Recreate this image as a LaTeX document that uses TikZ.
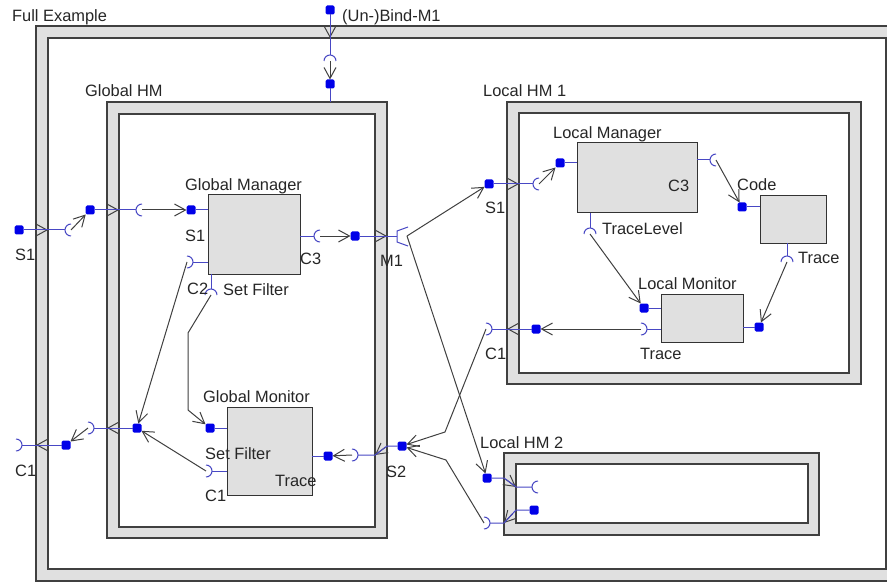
\documentclass[tikz,border=0pt]{standalone}
\usepackage{fontspec}
\setmainfont{Liberation Sans}
\usetikzlibrary{arrows.meta, calc}
\definecolor{bandGray}{gray}{0.88}
\definecolor{edgeGray}{gray}{0.25}
\definecolor{bindGray}{gray}{0.25}
\definecolor{wireBlue}{RGB}{72,72,196}
\definecolor{portBlue}{RGB}{0,0,232}

\tikzset{
  frameband/.style={draw=edgeGray, fill=bandGray, line width=1.2pt, inner sep=0pt, outer sep=0pt, anchor=north west},
  framein/.style={draw=edgeGray, fill=white, line width=1.2pt, inner sep=0pt, outer sep=0pt, anchor=north west},
  comp/.style={draw=black!80, fill=bandGray, line width=1pt, inner sep=0pt, outer sep=0pt, anchor=north west},
  srv/.style={fill=portBlue, minimum size=9pt, inner sep=0pt, outer sep=0pt, rounded corners=1.5pt},
  wire/.style={draw=wireBlue, line width=1pt},
  bind/.style={draw=bindGray, line width=1pt, -{Straight Barb[length=11pt,width=12pt]}},
  lbl/.style={inner sep=0pt, anchor=base west, text=black!85, font=\fontsize{16.4}{18}\selectfont},
  sockR/.pic={\draw[wire] (0,-6) arc[start angle=90, end angle=270, radius=6pt];
    \coordinate (-c) at (0,0); \coordinate (-b) at (-6,0);},
  sockL/.pic={\draw[wire] (0,-6) arc[start angle=90, end angle=-90, radius=6pt];
    \coordinate (-c) at (0,0); \coordinate (-b) at (6,0);},
  sockD/.pic={\draw[wire] (-6,0) arc[start angle=180, end angle=0, radius=6pt];
    \coordinate (-c) at (0,0); \coordinate (-b) at (0,-6);},
  multi/.pic={\draw[wire] (11,-9) -- (0,-5) -- (0,6) -- (11,10);
    \coordinate (-c) at (10,0); \coordinate (-b) at (0,0);}
}
\newcommand{\memtip}[2]{\draw[bind] ($(#2)!13pt!(#1)$) -- (#2);}

\begin{document}
\begin{tikzpicture}[x=1pt, y=-1pt]
    \useasboundingbox (0,0) rectangle (887,583);

    % Membranes
    \node[frameband, minimum width=862pt, minimum height=555pt] (full) at (36,26) {};
    \node[framein, minimum width=838pt, minimum height=531pt] (fullIn) at (48,38) {};
    \node[frameband, minimum width=280pt, minimum height=436pt] (gh) at (107,102) {};
    \node[framein, minimum width=256pt, minimum height=413pt] (ghIn) at (119,114) {};
    \node[frameband, minimum width=354pt, minimum height=282pt] (lh1) at (507,102) {};
    \node[framein, minimum width=330pt, minimum height=260pt] (lh1In) at (519,113) {};
    \node[frameband, minimum width=315pt, minimum height=82pt] (lh2) at (504,453) {};
    \node[framein, minimum width=292pt, minimum height=59pt] (lh2In) at (516,464) {};

    % Primitive components
    \node[comp, minimum width=92pt, minimum height=79pt] (gm) at (208,195) {};
    \node[comp, minimum width=85pt, minimum height=88pt] (gmo) at (227,407) {};
    \node[comp, minimum width=120pt, minimum height=70pt] (lm) at (577,143) {};
    \node[comp, minimum width=66pt, minimum height=47pt] (code) at (760,196) {};
    \node[comp, minimum width=82pt, minimum height=48pt] (lmo) at (661,294) {};

    % Server interfaces
    \node[srv] (oS1) at (19,230) {};
    \node[srv] (ghS1) at (90,210) {};
    \node[srv] (ub) at (330,10) {};
    \node[srv] (ghM1) at (330,84) {};
    \node[srv] (gmS1) at (191,210) {};
    \node[srv] (ghM1in) at (355,236) {};
    \node[srv] (ghS2) at (402,446) {};
    \node[srv] (gmoTr) at (328,456) {};
    \node[srv] (gmoSF) at (210,428) {};
    \node[srv] (ghC1in) at (137,428) {};
    \node[srv] (oC1in) at (66,445) {};
    \node[srv] (lh1S1) at (489,184) {};
    \node[srv] (lmS) at (560,163) {};
    \node[srv] (codeS) at (742,207) {};
    \node[srv] (lmoS) at (644,308) {};
    \node[srv] (lmoOut) at (759,327) {};
    \node[srv] (lh1C1in) at (536,329) {};
    \node[srv] (lh2S1) at (487,478) {};
    \node[srv] (lh2C1in) at (534,510) {};

    % Client interfaces
    \pic (oS1in) at (71,230) {sockR};
    \pic (ghS1in) at (142,210) {sockR};
    \pic (ubIn) at (330,61) {sockD};
    \pic (gmC2) at (187,262) {sockL};
    \pic (gmSF) at (211,295) {sockD};
    \pic (gmC3) at (320,236) {sockR};
    \pic (ghM1out) at (397,236) {multi};
    \pic (ghS2in) at (352,455) {sockL};
    \pic (ghC1out) at (88,428) {sockL};
    \pic (oC1out) at (16,445) {sockL};
    \pic (gmoC1) at (206,471) {sockL};
    \pic (lh1S1in) at (539,184) {sockR};
    \pic (lmC3) at (716,160) {sockR};
    \pic (lmTL) at (590,234) {sockD};
    \pic (codeTr) at (787,262) {sockD};
    \pic (lmoTr) at (641,329) {sockL};
    \pic (lh1C1out) at (486,329) {sockL};
    \pic (lh2S1in) at (538,487) {sockR};
    \pic (lh2C1out) at (484,523) {sockL};

    % Crossing points on the membranes
    \coordinate (tS1) at (oS1 -| fullIn.west);
    \coordinate (tGS1) at (ghS1 -| ghIn.west);
    \coordinate (tUB) at (ub |- fullIn.north);
    \coordinate (tM1) at (ghM1in -| gh.east);
    \coordinate (jS2) at (ghS2 -| gh.east);
    \coordinate (tS2) at (ghS2in-b -| ghIn.east);
    \coordinate (tGC1) at (ghC1in -| gh.west);
    \coordinate (tC1) at (oC1in -| full.west);
    \coordinate (tLS1) at (lh1S1 -| lh1In.west);
    \coordinate (tLC1) at (lh1C1in -| lh1.west);
    \coordinate (jL2S) at (lh2S1 -| lh2.west);
    \coordinate (tL2S) at (lh2S1in-b -| lh2In.west);
    \coordinate (jL2C) at (lh2C1in -| lh2In.west);
    \coordinate (tL2C) at (lh2C1out-b -| lh2.west);

    \memtip{oS1}{tS1}
    \memtip{ghS1}{tGS1}
    \memtip{ub}{tUB}
    \memtip{ghM1in}{tM1}
    \memtip{jS2}{tS2}
    \memtip{ghC1in}{tGC1}
    \memtip{oC1in}{tC1}
    \memtip{lh1S1}{tLS1}
    \memtip{lh1C1in}{tLC1}
    \memtip{jL2S}{tL2S}
    \memtip{jL2C}{tL2C}

    % Wires through the membranes
    \draw[wire] (oS1) -- (oS1in-b);
    \draw[wire] (ghS1) -- (ghS1in-b);
    \draw[wire] (ub) -- (ubIn-b);
    \draw[wire] (ghM1) -- (ghM1 |- gh.north);
    \draw[wire] (ghM1in) -- (ghM1out-b);
    \draw[wire] (ghS2) -- (jS2) -- (tS2) -- (ghS2in-b);
    \draw[wire] (ghC1in) -- (ghC1out-b);
    \draw[wire] (oC1in) -- (oC1out-b);
    \draw[wire] (lh1S1) -- (lh1S1in-b);
    \draw[wire] (lh1C1in) -- (lh1C1out-b);
    \draw[wire] (lh2S1) -- (jL2S) -- (tL2S) -- (lh2S1in-b);
    \draw[wire] (lh2C1in) -- (jL2C) -- (tL2C) -- (lh2C1out-b);

    % Stubs to the components
    \draw[wire] (gmS1) -- (gmS1 -| gm.west);
    \draw[wire] (gmC2-b) -- (gmC2-b -| gm.west);
    \draw[wire] (gmSF-b) -- (gmSF-b |- gm.south);
    \draw[wire] (gmC3-b) -- (gmC3-b -| gm.east);
    \draw[wire] (gmoSF) -- (gmoSF -| gmo.west);
    \draw[wire] (gmoC1-b) -- (gmoC1-b -| gmo.west);
    \draw[wire] (gmoTr) -- (gmoTr -| gmo.east);
    \draw[wire] (lmS) -- (lmS -| lm.west);
    \draw[wire] (lmC3-b) -- (lmC3-b -| lm.east);
    \draw[wire] (lmTL-b) -- (lmTL-b |- lm.south);
    \draw[wire] (codeS) -- (codeS -| code.west);
    \draw[wire] (codeTr-b) -- (codeTr-b |- code.south);
    \draw[wire] (lmoS) -- (lmoS -| lmo.west);
    \draw[wire] (lmoTr-b) -- (lmoTr-b -| lmo.west);
    \draw[wire] (lmoOut) -- (lmoOut -| lmo.east);

    % Bindings
    \coordinate (bA) at (445,432);
    \coordinate (bB) at (446,460);
    \coordinate (bC) at (188,333);
    \coordinate (bD) at (188,410);
    \draw[bind] (oS1in-c) -- (ghS1);
    \draw[bind] (ghS1in-c) -- (gmS1);
    \draw[bind] (ubIn-c) -- (ghM1);
    \draw[bind] (gmC3-c) -- (ghM1in);
    \draw[bind] (ghM1out-c) -- (lh1S1);
    \draw[bind] (ghM1out-c) -- (lh2S1);
    \draw[bind] (lh1S1in-c) -- (lmS);
    \draw[bind] (lmC3-c) -- (codeS);
    \draw[bind] (lmTL-c) -- (lmoS);
    \draw[bind] (codeTr-c) -- (lmoOut);
    \draw[bind] (lmoTr-c) -- (lh1C1in);
    \draw[bind] (lh1C1out-c) -- (bA) -- (ghS2);
    \draw[bind] (lh2C1out-c) -- (bB) -- (ghS2);
    \draw[bind] (ghS2in-c) -- (gmoTr);
    \draw[bind] (gmC2-c) -- (ghC1in);
    \draw[bind] (gmoC1-c) -- (ghC1in);
    \draw[bind] (gmSF-c) -- (bC) -- (bD) -- (gmoSF);
    \draw[bind] (ghC1out-c) -- (oC1in);

    % Labels
    \node[lbl] (lFull) at (12,22) {Full Example};
    \node[lbl] (lBind) at (342,22) {(Un-)Bind-M1};
    \node[lbl] (lGH) at (85,97) {Global HM};
    \node[lbl] (lLH1) at (483,97) {Local HM 1};
    \node[lbl] (lLH2) at (480,448) {Local HM 2};
    \node[lbl] (lGM) at (185,190) {Global Manager};
    \node[lbl] (lGMS1) at (185,241) {S1};
    \node[lbl] (lGMC2) at (187,294) {C2};
    \node[lbl] (lGMSF) at (223,295) {Set Filter};
    \node[lbl] (lGMC3) at (300,265) {C3};
    \node[lbl] (lM1) at (380,266) {M1};
    \node[lbl] (lS1) at (15,261) {S1};
    \node[lbl] (lC1) at (15,476) {C1};
    \node[lbl] (lGMo) at (203,402) {Global Monitor};
    \node[lbl] (lGMoSF) at (205,459) {Set Filter};
    \node[lbl] (lGMoC1) at (205,501) {C1};
    \node[lbl] (lGMoTr) at (275,486) {Trace};
    \node[lbl] (lS2) at (386,477) {S2};
    \node[lbl] (lLS1) at (485,214) {S1};
    \node[lbl] (lLM) at (553,139) {Local Manager};
    \node[lbl] (lLMC3) at (668,192) {C3};
    \node[lbl] (lTL) at (602,234) {TraceLevel};
    \node[lbl] (lCode) at (737,191) {Code};
    \node[lbl] (lCTr) at (798,263) {Trace};
    \node[lbl] (lLMo) at (638,289) {Local Monitor};
    \node[lbl] (lLMoTr) at (640,359) {Trace};
    \node[lbl] (lLC1) at (485,359) {C1};
\end{tikzpicture}
\end{document}
